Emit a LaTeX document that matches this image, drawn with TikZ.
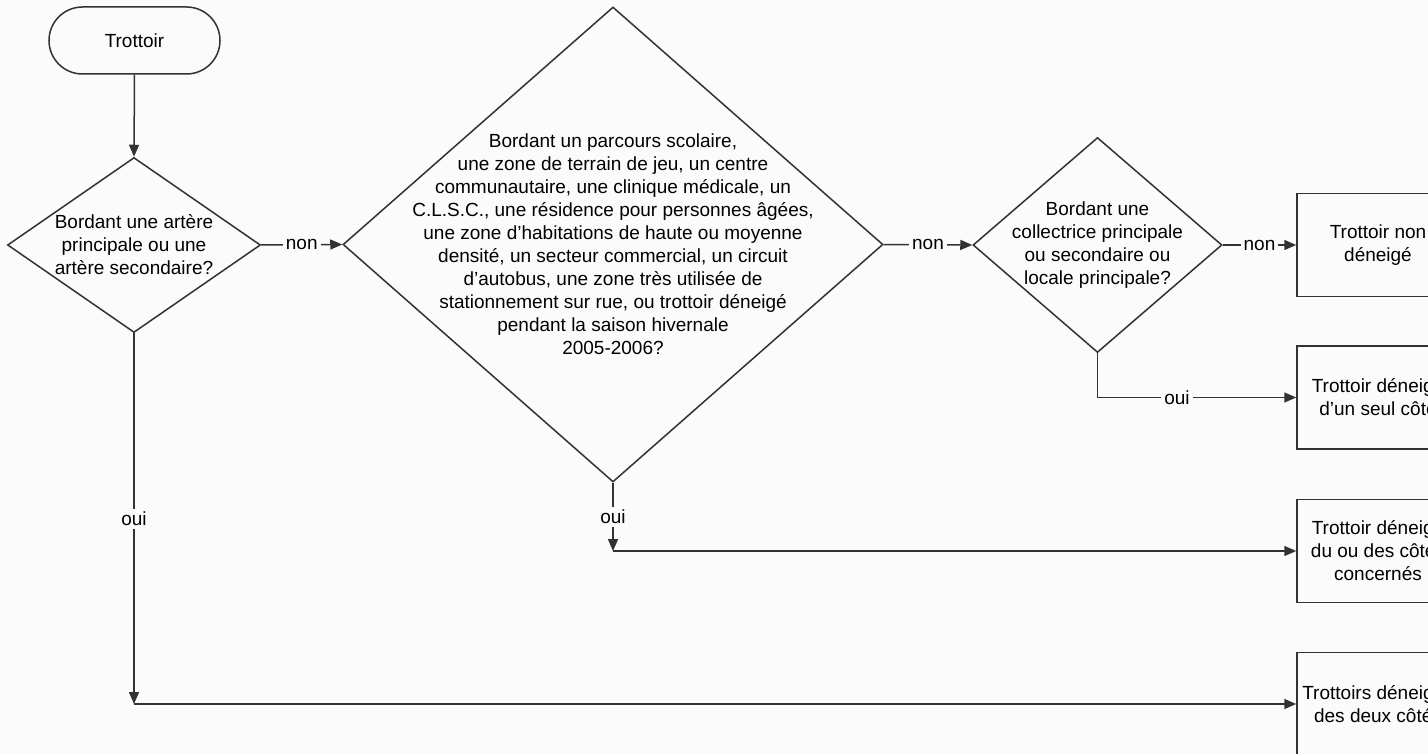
\documentclass[tikz,border=0pt]{standalone}
\usepackage{fontspec}
\setmainfont{Liberation Sans}
\usetikzlibrary{shapes.geometric,shapes.misc,arrows.meta}
\definecolor{bg}{RGB}{250,251,250}
\definecolor{ln}{RGB}{50,50,50}
\begin{document}
\begin{tikzpicture}[x=1pt,y=-1pt,
  every node/.style={font=\fontsize{19}{23}\selectfont, text=black},
  shapeline/.style={draw=ln, line width=1.5pt},
  dia/.style={shapeline, diamond, inner sep=0pt},
  term/.style={shapeline, rounded rectangle, inner sep=0pt, minimum width=171pt, minimum height=67pt},
  outbox/.style={shapeline, rectangle, inner sep=0pt, minimum width=162pt, minimum height=103pt, align=center},
  txt/.style={align=center, inner sep=0pt},
  conn/.style={draw=ln, line width=1.5pt, -{Triangle[length=12pt,width=10pt]}},
  lbl/.style={fill=bg, inner sep=3pt}
]
\useasboundingbox (0,0) rectangle (1428,754);
\fill[bg] (0,0) rectangle (1428,754);
\clip (0,0) rectangle (1428,754);

% shapes
\node[term] (t) at (134.5,40.5) {Trottoir};
\node[dia, minimum width=253pt, minimum height=175pt] (d1) at (134,245) {};
\node[txt] (d1t) at (d1.center) {Bordant une artère\\principale ou une\\artère secondaire?};
\node[dia, minimum width=540pt, minimum height=475pt] (d2) at (613,244.5) {};
\node[txt] (d2t) at (d2.center) {Bordant un parcours scolaire,\\une zone de terrain de jeu, un centre\\communautaire, une clinique médicale, un\\C.L.S.C., une résidence pour personnes âgées,\\une zone d’habitations de haute ou moyenne\\densité, un secteur commercial, un circuit\\d’autobus, une zone très utilisée de\\stationnement sur rue, ou trottoir déneigé\\pendant la saison hivernale\\2005-2006?};
\node[dia, minimum width=249pt, minimum height=215pt] (d3) at (1097.5,245) {};
\node[txt] (d3t) at (d3.center) {Bordant une\\collectrice principale\\ou secondaire ou\\locale principale?};

\node[outbox] (b1) at (1378,245) {Trottoir non\\déneigé};
\node[outbox] (b2) at (1378,397.5) {Trottoir déneigé\\d’un seul côté};
\node[outbox] (b3) at (1378,551) {Trottoir déneigé\\du ou des côtés\\concernés};
\node[outbox] (b4) at (1378,704) {Trottoirs déneigés\\des deux côtés};

% connectors
\draw[conn] (t.south) -- (d1.north);
\draw[conn] (d1.east) -- node[lbl]{non} (d2.west);
\draw[conn] (d2.east) -- node[lbl]{non} (d3.west);
\draw[conn] (d3.east) -- node[lbl]{non} (b1.west);
\draw[conn] (d3.south) |- node[lbl, pos=0.7]{oui} (b2.west);
\coordinate (c2) at (d2.south |- b3.west);
\draw[conn] (d2.south) -- node[lbl]{oui} (c2);
\draw[conn] (c2) -- (b3.west);
\coordinate (c1) at (d1.south |- b4.west);
\draw[conn] (d1.south) -- node[lbl]{oui} (c1);
\draw[conn] (c1) -- (b4.west);
\end{tikzpicture}
\end{document}
